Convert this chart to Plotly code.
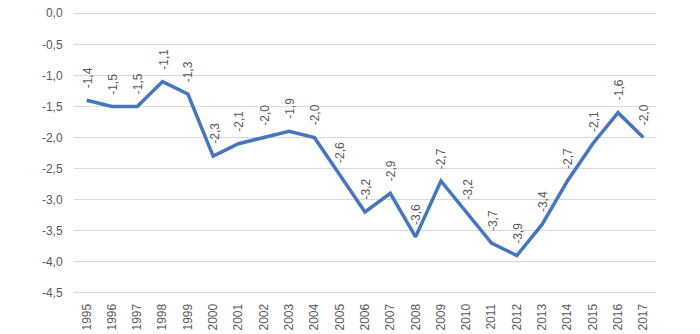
import plotly.graph_objects as go

# Annual values, 1995-2017
years = [str(y) for y in range(1995, 2018)]
values = [-1.4, -1.5, -1.5, -1.1, -1.3, -2.3, -2.1, -2.0, -1.9, -2.0, -2.6, -3.2,
          -2.9, -3.6, -2.7, -3.2, -3.7, -3.9, -3.4, -2.7, -2.1, -1.6, -2.0]

y_ticks = [0.0, -0.5, -1.0, -1.5, -2.0, -2.5, -3.0, -3.5, -4.0, -4.5]


def fmt(v):
    # one decimal, comma separator, ASCII hyphen for negatives
    return f"{v:.1f}".replace(".", ",")


FONT = "Liberation Sans, Arial, sans-serif"
GREY = "#595959"
BLUE = "#4677BE"

fig = go.Figure()
fig.add_trace(go.Scatter(
    x=years, y=values, mode="lines",
    line=dict(color=BLUE, width=3.5),
    hoverinfo="skip",
))

for i, v in enumerate(values):
    fig.add_annotation(
        x=i, y=v, xref="x", yref="y", text=fmt(v), showarrow=False, textangle=-90,
        xanchor="center", yanchor="bottom", yshift=10, xshift=1,
        font=dict(family=FONT, size=12, color=GREY),
    )

fig.update_layout(
    width=700, height=334,
    margin=dict(l=74, r=44, t=12, b=40, autoexpand=False),
    plot_bgcolor="white", paper_bgcolor="white",
    showlegend=False,
    font=dict(family=FONT, size=12, color=GREY),
)
fig.update_xaxes(
    type="category", range=[-0.5, len(years) - 0.5], automargin=False,
    tickangle=-90, showgrid=False, showline=False, zeroline=False,
    ticks="outside", ticklen=4, tickcolor="rgba(0,0,0,0)",
    tickfont=dict(family=FONT, size=12, color=GREY),
)
fig.update_yaxes(
    range=[-4.52, 0.02], tickvals=y_ticks, ticktext=[fmt(t) for t in y_ticks],
    automargin=False,
    showgrid=True, gridcolor="#D9D9D9", gridwidth=1, zeroline=False, showline=False,
    ticks="outside", ticklen=8, tickcolor="rgba(0,0,0,0)",
    tickfont=dict(family=FONT, size=12, color=GREY),
)

fig.write_html("out.html")
